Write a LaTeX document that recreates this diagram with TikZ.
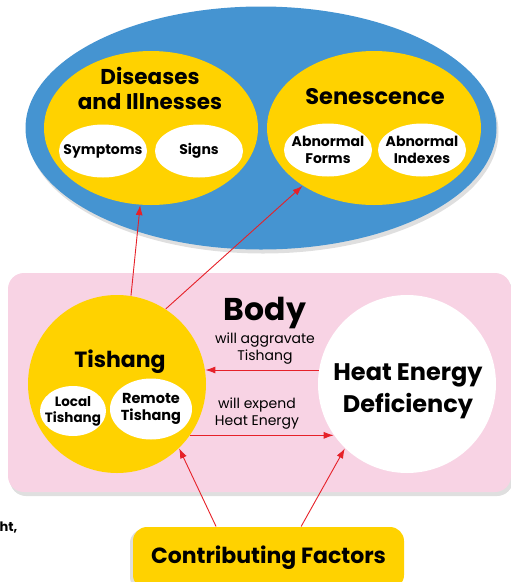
\documentclass[tikz,border=0pt]{standalone}
\usepackage{fontspec}
\setmainfont{Poppins}
\usetikzlibrary{arrows.meta, shapes.geometric, shadows}

\definecolor{skyblue}{HTML}{4594D1}
\definecolor{sunyellow}{HTML}{FFD200}
\definecolor{bodypink}{HTML}{F8D3E4}
\definecolor{arrowred}{HTML}{E62129}

\begin{document}
\begin{tikzpicture}[x=1pt, y=-1pt, line width=1pt,
    blob/.style={ellipse, fill=sunyellow, inner sep=0pt, minimum width=214, minimum height=154},
    pill/.style={ellipse, fill=white, inner sep=0pt, minimum width=88, minimum height=53},
    redarrow/.style={draw=arrowred, line width=0.9pt, -{Latex[length=10pt, width=7pt]}},
    soft/.style={drop shadow={opacity=0.25, shadow xshift=2pt, shadow yshift=-4pt}}]
    \useasboundingbox (0,0) rectangle (511,582);

    % Outer ellipse
    \node[ellipse, fill=skyblue, minimum width=471, minimum height=243, soft] (outer) at (261,128) {};

    % Diseases and Illnesses
    \node[blob] (dis) at (151,128) {};
    \node[font=\bfseries\fontsize{21.5}{25}\selectfont, align=center] (distxt) at (150,88) {Diseases\\and Illnesses};
    \node[pill] (sym) at (103,151) {};
    \node[font=\bfseries\fontsize{14}{17}\selectfont] (symtxt) at (sym) {Symptoms};
    \node[pill] (sig) at (199,151) {};
    \node[font=\bfseries\fontsize{14}{17}\selectfont] (sigtxt) at (sig) {Signs};

    % Senescence
    \node[blob] (sen) at (374,128) {};
    \node[font=\bfseries\fontsize{22.5}{26}\selectfont] (sentxt) at (375,97) {Senescence};
    \node[pill] (form) at (328,150) {};
    \node[font=\bfseries\fontsize{14}{17}\selectfont, align=center] (formtxt) at (form) {Abnormal\\Forms};
    \node[pill] (idx) at (422,150) {};
    \node[font=\bfseries\fontsize{14}{17}\selectfont, align=center] (idxtxt) at (idx) {Abnormal\\Indexes};

    % Body
    \node[rectangle, rounded corners=16, fill=bodypink, minimum width=503, minimum height=219, soft] (body) at (259.5,382.5) {};
    \node[font=\bfseries\fontsize{31.5}{36}\selectfont] (bodytxt) at (265,313) {Body};

    % Tishang
    \node[circle, fill=sunyellow, minimum size=178, inner sep=0pt] (tis) at (117,384) {};
    \node[font=\bfseries\fontsize{22}{26}\selectfont] (tistxt) at (120,362) {Tishang};
    \node[ellipse, fill=white, minimum width=66, minimum height=50, inner sep=0pt] (loc) at (73,411) {};
    \node[font=\bfseries\fontsize{13.5}{16}\selectfont, align=center] (loctxt) at (loc) {Local\\Tishang};
    \node[ellipse, fill=white, minimum width=82, minimum height=61, inner sep=0pt] (rem) at (151,409) {};
    \node[font=\bfseries\fontsize{14.5}{17}\selectfont, align=center] (remtxt) at (rem) {Remote\\Tishang};

    % Heat Energy Deficiency
    \node[circle, fill=white, minimum size=178, inner sep=0pt] (hed) at (407,384) {};
    \node[font=\bfseries\fontsize{24}{32}\selectfont, align=center] (hedtxt) at (408,391) {Heat Energy\\Deficiency};

    % Contributing Factors
    \node[rectangle, rounded corners=14, fill=sunyellow, minimum width=271, minimum height=62, inner sep=0pt,
        drop shadow={opacity=0.25, shadow xshift=-3pt, shadow yshift=-2pt},
        font=\bfseries\fontsize{22}{26}\selectfont] (cf) at (268.5,558) {Contributing Factors};

    % cut-off text at left
    \node[anchor=west, inner sep=0pt, font=\bfseries\fontsize{13}{15}\selectfont] (frag) at (-1,528) {ht,};

    % Arrows between Tishang and Heat Energy Deficiency
    \draw[redarrow] (hed.171) -- (tis.9);
    \node[font=\fontsize{14}{17}\selectfont, align=center] (aggr) at (265,349) {will aggravate\\Tishang};
    \draw[redarrow] (tis.-35) -- (hed.215);
    \node[font=\fontsize{14}{17}\selectfont, align=center] (exp) at (257,414) {will expend\\Heat Energy};

    % Arrows upward
    \draw[redarrow] (tis.81) -- (dis.262);
    \draw[redarrow] (tis.57) -- (sen.219);
    \draw[redarrow] (cf.149) -- (tis.-46);
    \draw[redarrow] (cf.44) -- (hed.226);
\end{tikzpicture}
\end{document}
